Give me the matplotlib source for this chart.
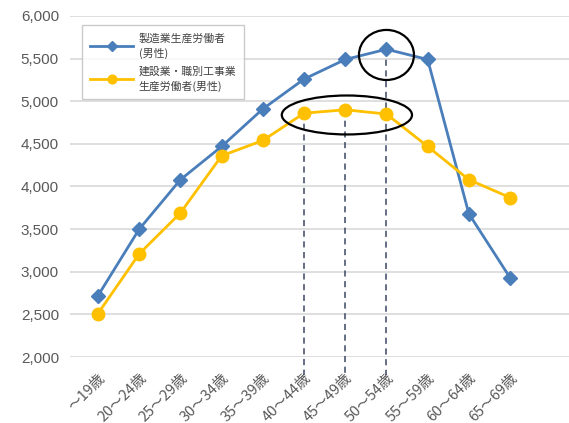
import matplotlib
matplotlib.use("Agg")
import matplotlib.pyplot as plt
from matplotlib.patches import Ellipse

categories = ["～19歳", "20～24歳", "25～29歳", "30～34歳", "35～39歳", "40～44歳",
              "45～49歳", "50～54歳", "55～59歳", "60～64歳", "65～69歳"]
manufacturing = [2720, 3500, 4080, 4470, 4910, 5260, 5490, 5610, 5490, 3680, 2930]
construction = [2510, 3210, 3690, 4360, 4540, 4860, 4900, 4850, 4470, 4080, 3870]
label_manu = "製造業生産労働者\n(男性)"
label_cons = "建設業・職別工事業\n生産労働者(男性)"
yticks = [2000, 2500, 3000, 3500, 4000, 4500, 5000, 5500, 6000]

plt.rcParams['font.family'] = ['Noto Sans CJK JP', 'DejaVu Sans']

fig = plt.figure(figsize=(5.69, 4.23), dpi=100)
ax = fig.add_axes([70/569, (423-357)/423, 1 - 70/569, 341/423])

x = list(range(len(categories)))
blue = "#4A7EBB"
orange = "#FFC000"

ax.set_ylim(2000, 6000)
ax.set_xlim(-0.68, 11.43)
ax.set_yticks(yticks)
ax.set_yticklabels([f"{v:,}" for v in yticks], family=['Liberation Sans'], fontsize=11, color="#595959")
ax.yaxis.grid(True, color="#D9D9D9", lw=1.2)
ax.set_axisbelow(True)
for s in ax.spines.values():
    s.set_visible(False)
ax.tick_params(length=0)
ax.tick_params(axis='y', pad=8)

ax.set_xticks(x)
ax.set_xticklabels(categories, rotation=45, ha='right', va='top', rotation_mode='anchor',
                   fontsize=10.5, color="#595959")
ax.tick_params(axis='x', pad=10)

# dashed guide lines
dash_col = "#3A4660"
for i, src in [(5, construction), (6, construction), (7, manufacturing)]:
    ax.plot([i, i], [src[i], 1790], ls=(0, (4, 3)), color=dash_col, lw=1.1, clip_on=False, zorder=1)

ax.plot(x, manufacturing, color=blue, lw=2, marker='D', ms=7, label=label_manu, zorder=3)
ax.plot(x, construction, color=orange, lw=2, marker='o', ms=9, label=label_cons, zorder=3)

ax.add_patch(Ellipse((7.0, 5543), 1.335, 587, fill=False, ec='black', lw=1.6, zorder=4))
ax.add_patch(Ellipse((6.04, 4839), 3.16, 457, fill=False, ec='black', lw=1.6, zorder=4))

leg = ax.legend(loc='upper left', bbox_to_anchor=(77/569, 1 - 20/423), bbox_transform=fig.transFigure,
                fontsize=7.8, handlelength=4.0, frameon=True, fancybox=False, markerscale=0.7,
                edgecolor="#BFBFBF", borderpad=0.7, labelspacing=0.7, handletextpad=0.5)
leg.get_frame().set_linewidth(1.0)
for t in leg.get_texts():
    t.set_color("#404040")
    t.set_multialignment('left')
    t.set_linespacing(1.45)

fig.savefig("out.png", dpi=100)
